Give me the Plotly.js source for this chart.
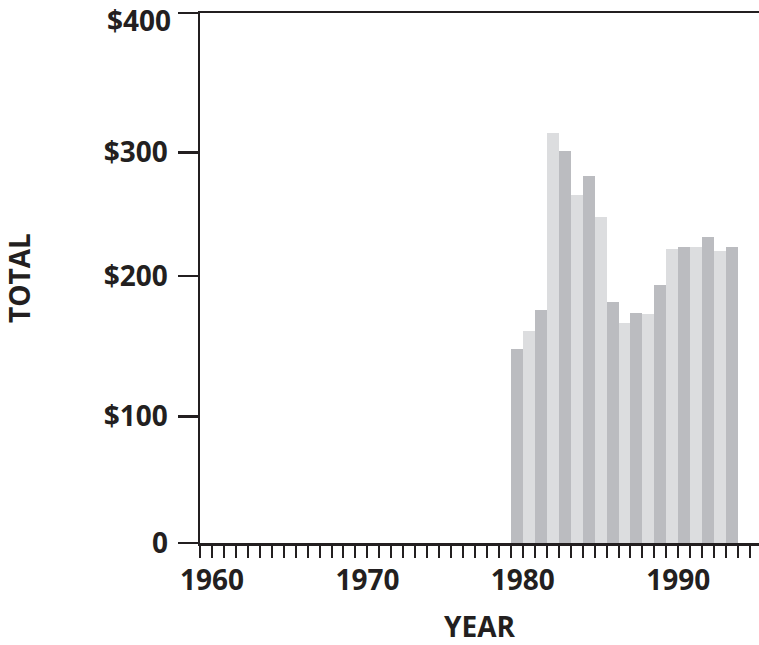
<!DOCTYPE html>
<html>
<head>
<meta charset="utf-8">
<script src="https://cdn.plot.ly/plotly-3.0.1.min.js"></script>
<style>
  html, body { margin: 0; padding: 0; background: #ffffff; }
  #chart { width: 759px; height: 645px; }
</style>
</head>
<body>
<div id="chart"></div>
<script>
// ---- data ----
const years = [1980, 1981, 1982, 1983, 1984, 1985, 1986, 1987, 1988, 1989,
               1990, 1991, 1992, 1993, 1994, 1995, 1996, 1997, 1998];
const totals = [146.6, 160.2, 176.1, 309.7, 296.1, 262.9, 277.2, 246.3, 182.1, 166.3,
                173.8, 173.1, 194.9, 222.1, 223.6, 223.6, 231.2, 220.6, 223.6];
const xTickLabels = ['1960', '1970', '1980', '1990'];
const xTickVals = [1954.5, 1967.5, 1980.5, 1993.5];
const yTickLabels = ['0', '$100', '$200', '$300', '$400'];
const yTickVals = [0, 95.5, 201.7, 294.8, 400];

// ---- style ----
const ink = '#231f20';
const darkBar = '#bbbcc0';
const lightBar = '#dcdddf';
const fontFamily = "'Open Sans', 'Noto Sans', Roboto, sans-serif";
const tickFont = { family: fontFamily, size: 28, color: ink, weight: 700 };

const barColors = years.map((y, i) => (i % 2 === 0 ? darkBar : lightBar));

// the top label sits just inside the page, so it is drawn as an annotation
const lastIdx = yTickLabels.length - 1;
const yTickTextDrawn = yTickLabels.map((t, i) => (i === lastIdx ? '' : t));

const trace = {
  type: 'bar',
  x: years,
  y: totals,
  marker: { color: barColors, line: { width: 0 } },
  hoverinfo: 'x+y'
};

const layout = {
  width: 759,
  height: 645,
  margin: { l: 200, r: 0, t: 13, b: 102, pad: 0 },
  paper_bgcolor: '#ffffff',
  plot_bgcolor: '#ffffff',
  bargap: 0,
  showlegend: false,
  xaxis: {
    range: [1953.5, 2000.25],
    showline: true,
    mirror: true,
    linecolor: ink,
    linewidth: 2.5,
    showgrid: false,
    zeroline: false,
    tickmode: 'array',
    tickvals: xTickVals,
    ticktext: xTickLabels,
    ticks: 'outside',
    ticklen: 12,
    tickwidth: 2,
    tickcolor: ink,
    tickfont: tickFont,
    ticklabelstandoff: -1,
    minor: {
      ticks: 'outside',
      ticklen: 12,
      tickwidth: 2,
      tickcolor: ink,
      tickmode: 'linear',
      tick0: 1953.5,
      dtick: 1,
      showgrid: false
    },
    title: { text: 'YEAR', font: tickFont, standoff: 27 }
  },
  yaxis: {
    range: [0, 400],
    showline: true,
    linecolor: ink,
    linewidth: 2.5,
    showgrid: false,
    zeroline: false,
    tickmode: 'array',
    tickvals: yTickVals,
    ticktext: yTickTextDrawn,
    ticks: 'outside',
    ticklen: 20,
    tickwidth: 2.5,
    tickcolor: ink,
    tickfont: tickFont,
    ticklabelstandoff: 4,
    title: { text: 'TOTAL', font: tickFont, standoff: 74 }
  },
  annotations: [{
    xref: 'paper', yref: 'y',
    x: 0, y: yTickVals[lastIdx],
    xanchor: 'right', yanchor: 'middle',
    xshift: -27, yshift: -7,
    text: yTickLabels[lastIdx],
    showarrow: false,
    font: tickFont
  }]
};

Plotly.newPlot('chart', [trace], layout, { staticPlot: true, displayModeBar: false });
</script>
</body>
</html>
